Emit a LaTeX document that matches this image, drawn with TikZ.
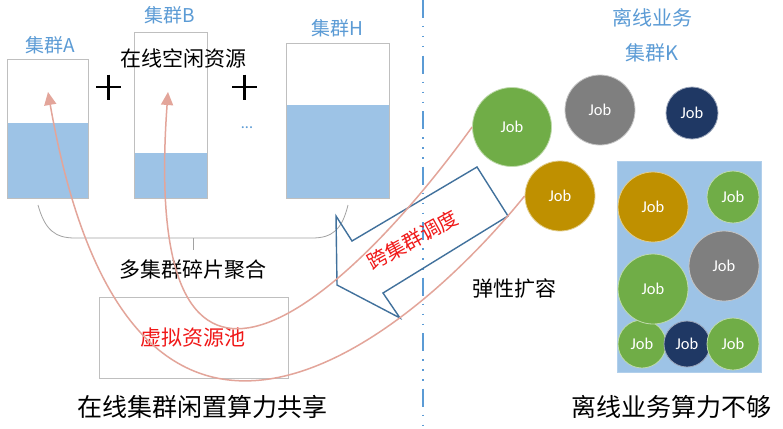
\documentclass[tikz,border=0pt]{standalone}
\usepackage{fontspec}
\setmainfont{Noto Sans CJK SC}
\newfontfamily\jobfont{Carlito}
\usetikzlibrary{arrows.meta}
\definecolor{lblue}{HTML}{5B9BD5}
\definecolor{fillb}{HTML}{9DC3E6}
\definecolor{jgreen}{HTML}{70AD47}
\definecolor{jgray}{HTML}{7F7F7F}
\definecolor{jnavy}{HTML}{1F3864}
\definecolor{jgold}{HTML}{BF9000}
\definecolor{salmon}{HTML}{E3A59A}
\definecolor{arrowblue}{HTML}{41719C}
\definecolor{boxgray}{HTML}{BFBFBF}
\definecolor{tred}{HTML}{F01818}
\newcommand{\fsz}[1]{\fontsize{#1}{#1}\selectfont}
\tikzset{
  job/.style={circle, fill=#1, draw=white!55!#1, line width=0.8pt, inner sep=0pt,
              text=white, font=\jobfont\fsz{16.5}},
  clab/.style={text=lblue, font=\fsz{19}, inner sep=0pt},
  ttl/.style={text=black, font=\fsz{21}, inner sep=0pt},
  big/.style={text=black, font=\fsz{25}, inner sep=0pt},
  cbox/.style={draw=boxgray, line width=0.8pt},
  curve/.style={draw=salmon, line width=1.5pt},
}
\begin{document}
\begin{tikzpicture}[x=1pt,y=-1pt]
\useasboundingbox (0,0) rectangle (783,428);
\fill[white] (0,0) rectangle (783,428);

% cluster columns
\fill[fillb] (7,123) rectangle (88,198);
\draw[cbox] (7,59) rectangle (88,198);
\fill[fillb] (134,153) rectangle (207,198);
\draw[cbox] (134,32) rectangle (207,198);
\fill[fillb] (286,105) rectangle (389,198);
\draw[cbox] (286,43) rectangle (389,198);

\node[clab] (la) at (50,45) {集群A};
\node[clab] (lb) at (170,15) {集群B};
\node[clab] (lh) at (337,28) {集群H};
\node[ttl] (idle) at (183,58) {在线空闲资源};

% plus signs
\draw[line width=2.6pt] (96,87) -- (121,87) (108.5,74.5) -- (108.5,99.5);
\draw[line width=2.6pt] (232,87) -- (257,87) (244.5,74.5) -- (244.5,99.5);
\node[text=lblue, font=\jobfont\fsz{16}, inner sep=0pt] (dots) at (247,128) {...};

% brace
\draw[draw=boxgray!85!black, line width=0.8pt]
  (38,205) .. controls (45,230) and (55,238) .. (75,238) -- (312,238)
  .. controls (332,238) and (342,230) .. (348,205);
\coordinate (bmid) at (193,238);
\coordinate (bend) at (193,250);
\draw[draw=boxgray!85!black, line width=0.8pt] (bmid) -- (bend);
\node[ttl] (agg) at (193,270) {多集群碎片聚合};

% virtual pool
\draw[cbox] (99,297) rectangle (288,378);
\node[text=tred, font=\fsz{21}, inner sep=0pt] (pool) at (193,338) {虚拟资源池};
\node[big] (share) at (202,407) {在线集群闲置算力共享};

% separator
\coordinate (st) at (423,0);
\coordinate (sb) at (423,428);
\draw[lblue, line width=2pt,
  dash pattern=on 18pt off 8pt on 1.5pt off 8.5pt on 1.5pt off 8.5pt on 1.5pt off 8pt]
  (st) -- (sb);

% right side titles
\node[clab, font=\fsz{20}] (off) at (652,18) {离线业务};
\node[clab, font=\fsz{20}] (ck) at (652,53) {集群K};

% blue box
\fill[fillb] (617,161) rectangle (761,372);
\draw[draw=fillb!80!white, line width=0.6pt] (617,161) rectangle (761,372);

% jobs
\node[job=jgreen, minimum size=79pt] (g1) at (512,127) {Job};
\node[job=jgray, minimum size=70pt] (gr1) at (600,110) {Job};
\node[job=jnavy, minimum size=52pt] (n1) at (692,113) {Job};
\node[job=jgold, minimum size=70pt] (go1) at (560,196) {Job};

\node[job=jgreen, minimum size=48pt] (g4) at (642,344) {Job};
\node[job=jnavy, minimum size=46pt] (n2) at (687,344) {Job};
\node[job=jgreen, minimum size=52pt] (g5) at (733,344) {Job};
\node[job=jgreen, minimum size=70pt] (g3) at (653,289) {Job};
\node[job=jgold, minimum size=70pt] (go2) at (653,207) {Job};
\node[job=jgreen, minimum size=52pt] (g2) at (733,197) {Job};
\node[job=jgray, minimum size=70pt] (gr2) at (724,266) {Job};

\node[ttl] (elastic) at (514,288) {弹性扩容};
\node[big] (short) at (671,407) {离线业务算力不够};

% block arrow
\draw[arrowblue, line width=1.4pt, line join=miter]
  (337,285) -- (336,216) -- (352,241) -- (477,167) -- (508,216)
  -- (383,293) -- (400,318) -- cycle;
\node[text=tred, font=\fsz{20}, inner sep=0pt, rotate=29] (sched) at (413,240) {跨集群调度};

% red curves
\coordinate (atip) at (48,92);
\coordinate (btip) at (168,92);
\draw[curve, -{Triangle[length=13pt,width=12pt]}]
  (g1.west) .. controls (340,310) and (140,480) .. (btip);
\draw[curve, -{Triangle[length=13pt,width=12pt]}]
  (go1.west) .. controls (400,350) and (130,560) .. (atip);
\end{tikzpicture}
\end{document}
